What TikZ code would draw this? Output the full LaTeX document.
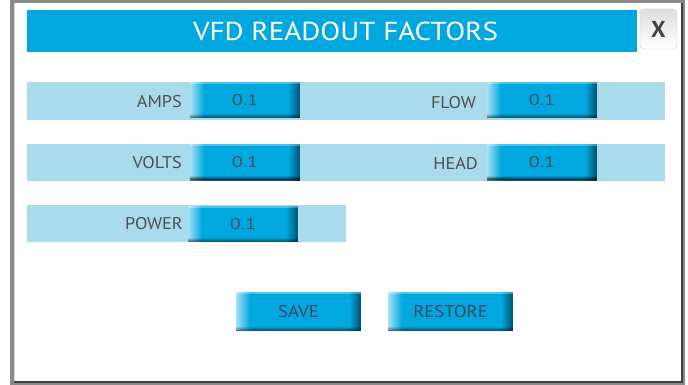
\documentclass[tikz,border=0pt]{standalone}
\usepackage{fontspec}
\setmainfont{PT Sans}
\definecolor{vfdblue}{HTML}{00A8DF}
\definecolor{barblue}{HTML}{A9DBEC}
\definecolor{fieldlight}{HTML}{A6E2F5}
\definecolor{fielddark}{HTML}{00587A}
\definecolor{labelgray}{HTML}{4E4E4E}
\definecolor{valgray}{HTML}{3E5564}
\definecolor{framegray}{HTML}{8A8A8A}
\newcommand{\wide}[2]{\scalebox{#1}[1]{#2}}
\begin{document}
\begin{tikzpicture}[x=1pt,y=-1pt,
  bar/.style={fill=barblue, inner sep=0pt, minimum height=37pt},
  fieldbox/.style={fill=vfdblue, inner sep=0pt, minimum width=110pt, minimum height=36pt,
    text=valgray, font=\fontsize{15.5}{15.5}\selectfont,
    path picture={
      \foreach \i in {0,...,13}{
        \pgfmathsetmacro{\pct}{100-\i*100/14}
        \fill[fieldlight!\pct!vfdblue]
          ([xshift=\i pt]path picture bounding box.south west) rectangle ([xshift=\i pt+1.05pt]path picture bounding box.north west);
      }
      \foreach \i in {0,...,10}{
        \pgfmathsetmacro{\pct}{100-\i*100/11}
        \fill[fielddark!\pct!vfdblue]
          ([xshift=-\i pt]path picture bounding box.south east) rectangle ([xshift=-\i pt-1.05pt]path picture bounding box.north east);
      }
      \foreach \i in {0,...,3}{
        \pgfmathsetmacro{\pct}{45-\i*12}
        \fill[black, opacity=\pct/100]
          ([yshift=\i pt]path picture bounding box.south west) rectangle ([yshift=\i pt+1.05pt]path picture bounding box.south east);
      }
      \fill[white, opacity=0.3]
        (path picture bounding box.north west) rectangle ([yshift=-1.5pt]path picture bounding box.north east);
    }},
  btn/.style={fieldbox, minimum width=125pt, minimum height=39pt, text=labelgray!90!blue,
    font=\fontsize{17}{17}\selectfont},
  lbl/.style={anchor=east, inner sep=0pt, text=labelgray, font=\fontsize{17}{17}\selectfont}]
% frame
\useasboundingbox (0,0) rectangle (688,385);
\fill[white] (0,0) rectangle (688,385);
\fill[framegray] (10,0) rectangle (685,385);
\fill[white] (14,3) rectangle (681,381);
\fill[black!75] (681,3) rectangle (683,383);
\fill[black!75] (14,381) rectangle (683,383);
\fill[black!15] (14,3) rectangle (15,381);
% title
\node[fill=vfdblue, minimum width=610pt, minimum height=42pt, inner sep=0pt] (title) at (332,31.5) {};
\node[inner sep=0pt, text=white, font=\fontsize{26}{26}\selectfont] (titletext) at (345.5,31.5) {\wide{1.12}{VFD READOUT FACTORS}};
% close button
\node[draw=black!20, rounded corners=4pt, bottom color=white, top color=black!13,
  minimum width=37pt, minimum height=40pt, inner sep=0pt, text=black!75,
  font=\fontsize{23}{23}\selectfont\bfseries] (close) at (658.5,29) {X};
% bars
\node[bar, minimum width=638pt, minimum height=38pt] (bar1) at (346,101) {};
\node[bar, minimum width=638pt] (bar2) at (346,162.5) {};
\node[bar, minimum width=319pt] (bar3) at (186.5,223.5) {};
% fields
\node[fieldbox] (amps) at (245,100.5) {\wide{1.3}{0.1}};
\node[fieldbox] (flow) at (542,100.5) {\wide{1.3}{0.1}};
\node[fieldbox] (volts) at (245,162.5) {\wide{1.3}{0.1}};
\node[fieldbox] (head) at (542,162.5) {\wide{1.3}{0.1}};
\node[fieldbox] (power) at (243,224) {\wide{1.3}{0.1}};
% labels
\node[lbl] (lamps) at (182,101.5) {\wide{1.07}{AMPS}};
\node[lbl] (lflow) at (476,102.5) {\wide{1.07}{FLOW}};
\node[lbl] (lvolts) at (182,163) {\wide{1.07}{VOLTS}};
\node[lbl] (lhead) at (478,164) {\wide{1.07}{HEAD}};
\node[lbl] (lpower) at (183,224) {\wide{1.07}{POWER}};
% buttons
\node[btn] (save) at (298.5,311.5) {\wide{1.1}{SAVE}};
\node[btn] (restore) at (450.5,311.5) {\wide{1.1}{RESTORE}};
\end{tikzpicture}
\end{document}
